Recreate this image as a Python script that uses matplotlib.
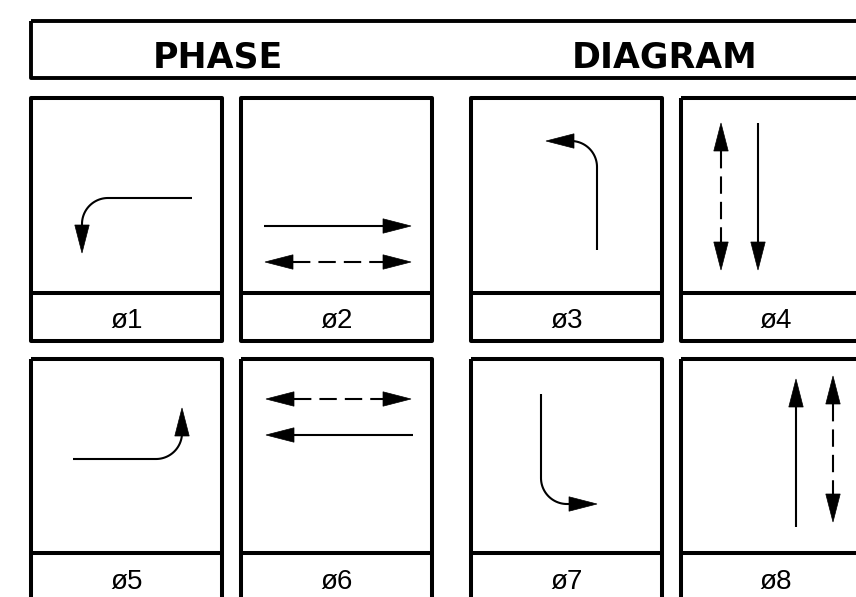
import numpy as np
import matplotlib
matplotlib.use("Agg")
import matplotlib.pyplot as plt
from matplotlib.patches import Rectangle, Polygon

plt.rcParams['lines.scale_dashes'] = False

# ---- layout data (pixel coordinates of the drawing) ----
title_words = ["PHASE", "DIAGRAM"]
title_x = [218, 665]
title_box = dict(left=31, right=900, top=21, bottom=78)

phase_labels = ["ø1", "ø2", "ø3", "ø4", "ø5", "ø6", "ø7", "ø8"]
col_left = [31, 241, 471, 681]
col_right = [222.5, 432.5, 662.5, 900]
label_x = [127, 337, 567, 776]
row_top = [98, 359]
row_divider = [292.5, 552.5]
row_bottom = [340.5, 620]
label_baseline = [328, 589]

# turning movements: start, corner, end (tip of arrow)
turn_arrows = [
    ((192, 198), (82, 198), (82, 253)),     # ø1
    ((597, 250), (597, 141), (546, 141)),   # ø3
    ((73, 459), (182, 459), (182, 408)),    # ø5
    ((541, 394), (541, 504), (597, 504)),   # ø7
]
# solid through arrows: start -> tip
solid_arrows = [
    ((264, 226), (411, 226)),   # ø2
    ((758, 123), (758, 270)),   # ø4
    ((413, 435), (266, 435)),   # ø6
    ((796, 527), (796, 379)),   # ø8
]
# dashed (pedestrian) two-way arrows: tip -> tip
dashed_arrows = [
    ((265, 262), (411, 262)),   # ø2
    ((721, 123), (721, 270)),   # ø4
    ((266, 399), (411, 399)),   # ø6
    ((833, 376), (833, 522)),   # ø8
]

W, H = 856, 597
HEAD_L, HEAD_HW = 28, 7.2
ARROW_LW = 1.5
BOX_LW = 2.9
TURN_R = 26

fig = plt.figure(figsize=(W / 100, H / 100), dpi=100)
ax = fig.add_axes([0, 0, 1, 1])
ax.set_xlim(0, W)
ax.set_ylim(H, 0)
ax.axis("off")


def head(tip, direction):
    tip = np.asarray(tip, float)
    d = np.asarray(direction, float)
    d = d / np.linalg.norm(d)
    n = np.array([-d[1], d[0]])
    base = tip - HEAD_L * d
    ax.add_patch(Polygon([tip, base + HEAD_HW * n, base - HEAD_HW * n],
                         closed=True, facecolor="black", edgecolor="black",
                         lw=0.5, zorder=3))
    return base


# title box
ax.add_patch(Rectangle((title_box['left'], title_box['top']),
                       title_box['right'] - title_box['left'],
                       title_box['bottom'] - title_box['top'],
                       fill=False, lw=2.8, ec="black", joinstyle="round"))
for word, x in zip(title_words, title_x):
    ax.text(x, 67, word, ha="center", va="baseline", fontsize=25,
            fontweight="bold", family="DejaVu Sans")

# phase boxes
k = 0
for r in range(2):
    for c in range(4):
        l, rt = col_left[c], col_right[c]
        ax.add_patch(Rectangle((l, row_top[r]), rt - l, row_bottom[r] - row_top[r],
                               fill=False, lw=BOX_LW, ec="black", joinstyle="round"))
        ax.plot([l, rt], [row_divider[r], row_divider[r]], color="black",
                lw=BOX_LW, solid_capstyle="butt")
        ax.text(label_x[c], label_baseline[r], phase_labels[k],
                ha="center", va="baseline", fontsize=20,
                family=["Liberation Sans", "DejaVu Sans"])
        k += 1

# turning arrows
for start, corner, end in turn_arrows:
    s, c, e = (np.asarray(p, float) for p in (start, corner, end))
    d1 = (c - s) / np.linalg.norm(c - s)
    d2 = (e - c) / np.linalg.norm(e - c)
    p1 = c - TURN_R * d1
    center = p1 + TURN_R * d2
    t = np.linspace(0, np.pi / 2, 40)
    arc = center[None, :] - np.outer(np.cos(t), d2) * TURN_R + np.outer(np.sin(t), d1) * TURN_R
    base = head(e, d2)
    pts = np.vstack([s, arc, base])
    ax.plot(pts[:, 0], pts[:, 1], color="black", lw=ARROW_LW,
            solid_capstyle="butt", solid_joinstyle="round")

# solid straight arrows
for start, tip in solid_arrows:
    s, e = np.asarray(start, float), np.asarray(tip, float)
    base = head(e, e - s)
    ax.plot([s[0], base[0]], [s[1], base[1]], color="black", lw=ARROW_LW,
            solid_capstyle="butt")

# dashed two-way arrows
for a, b in dashed_arrows:
    a, b = np.asarray(a, float), np.asarray(b, float)
    ba = head(b, b - a)
    bb = head(a, a - b)
    ax.plot([bb[0], ba[0]], [bb[1], ba[1]], color="black", lw=ARROW_LW,
            dashes=(12.5, 5.8), dash_capstyle="butt")

fig.savefig("out.png", dpi=100, facecolor="white")
